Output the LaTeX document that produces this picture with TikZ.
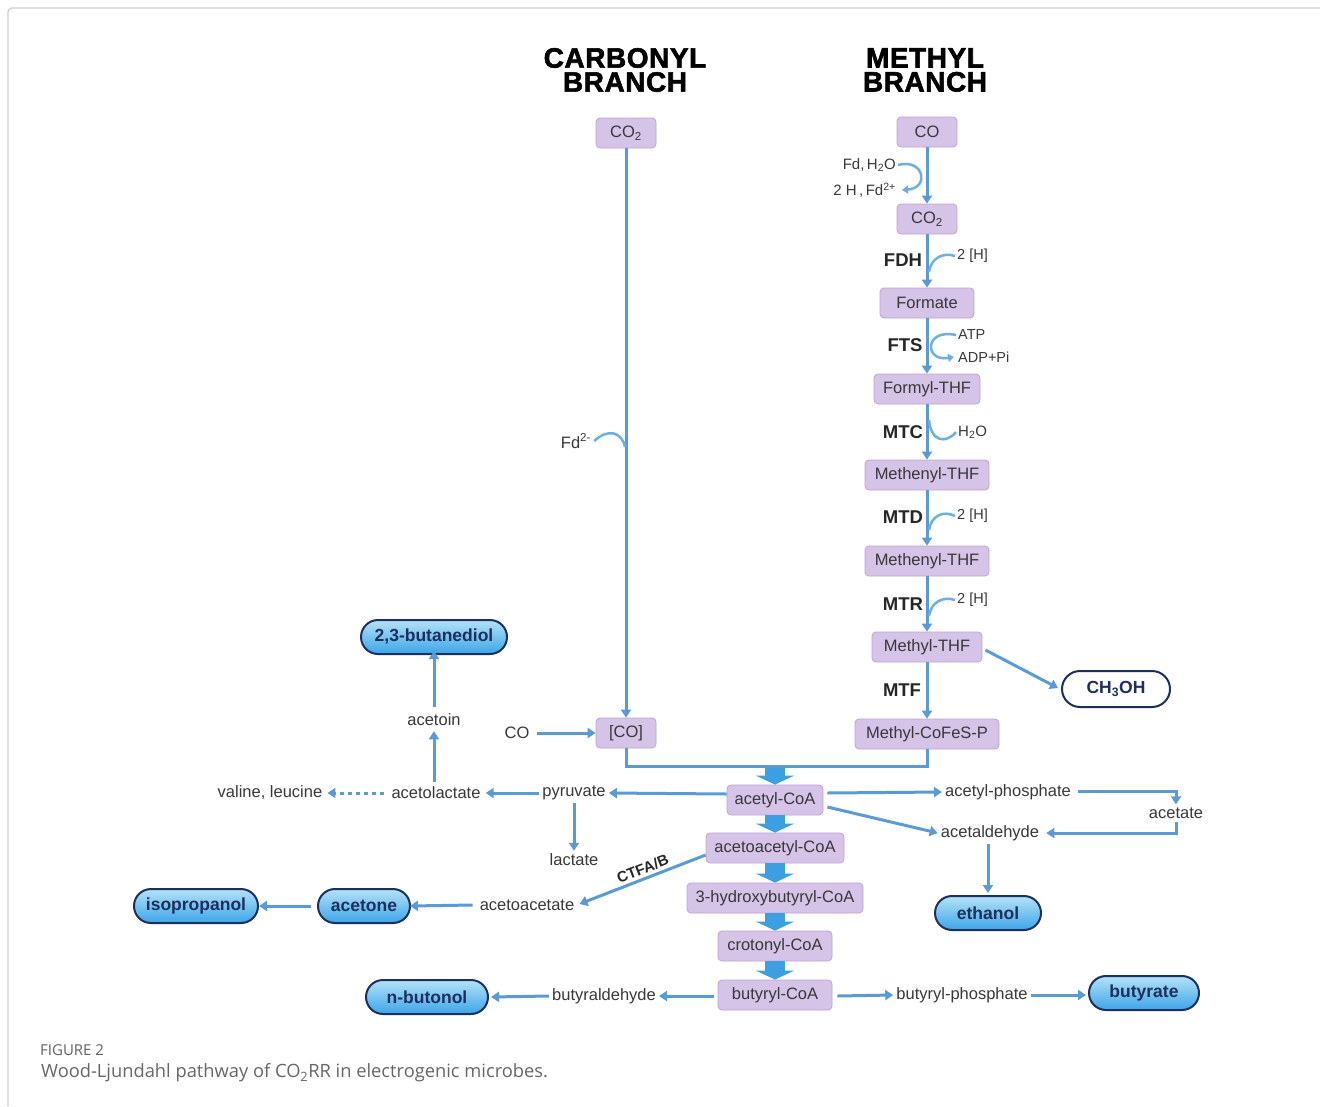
\documentclass[tikz,border=0pt]{standalone}
\usepackage{fontspec}
\setmainfont{Liberation Sans}
\newfontfamily\heavy[FakeBold=2,LetterSpace=2]{Liberation Sans Bold}
\newfontfamily\capfont{Open Sans}
\usetikzlibrary{arrows.meta,calc}
\definecolor{boxfill}{HTML}{D5C3E8}
\definecolor{boxedge}{HTML}{BCA4D6}
\definecolor{ablue}{HTML}{5B9BD5}
\definecolor{cblue}{HTML}{6FAEE2}
\definecolor{bblue}{HTML}{3D9FE2}
\definecolor{navy}{HTML}{1C2F5E}
\definecolor{ptop}{HTML}{B4E2F8}
\definecolor{pbot}{HTML}{3CA5E8}
\definecolor{txt}{HTML}{383838}
\definecolor{frame}{HTML}{CFCFCF}
\tikzset{
  box/.style={draw=boxedge, line width=0.8pt, fill=boxfill, rounded corners=4pt, minimum height=30pt,
    font=\fontsize{16.5}{18}\selectfont, text=txt, inner xsep=5pt},
  prod/.style={draw=navy, line width=2pt, rounded corners=17pt, top color=ptop, bottom color=pbot,
    minimum height=34pt, font=\fontsize{17.5}{19}\selectfont\bfseries, text=navy},
  prodw/.style={draw=navy, line width=2pt, rounded corners=18pt, fill=white,
    minimum height=36pt, font=\fontsize{17.5}{19}\selectfont\bfseries, text=navy},
  lbl/.style={font=\fontsize{16.5}{18}\selectfont, text=txt, inner sep=3pt},
  slbl/.style={font=\fontsize{15}{17}\selectfont, text=txt, inner sep=2pt},
  tlbl/.style={font=\fontsize{14.5}{16}\selectfont, text=txt, inner sep=2pt},
  enz/.style={font=\fontsize{18.5}{20}\selectfont\bfseries, text=black!85, inner sep=2pt},
  ttl/.style={font=\fontsize{28}{24}\selectfont\heavy, text=black, align=center},
  arr/.style={draw=ablue, line width=3pt, -{Triangle[width=10pt,length=8pt]}},
  dotarr/.style={draw=ablue, line width=3pt, dash pattern=on 4pt off 4pt, -{Triangle[width=10pt,length=8pt]}},
  plain/.style={draw=ablue, line width=3pt},
  cof/.style={draw=cblue, line width=2.5pt},
  cofarr/.style={draw=cblue, line width=2.5pt, -{Triangle[width=8pt,length=6pt]}},
  blockarr/.style={draw=bblue, line width=20pt, -{Triangle[width=38pt,length=9pt]}}
}
\begin{document}
\begin{tikzpicture}[x=1pt,y=-1pt]
\useasboundingbox (0,0) rectangle (1320,1106);
\fill[white] (0,0) rectangle (1320,1106);
\draw[frame, line width=1.2pt, rounded corners=4pt] (8,1106) -- (8,8) -- (1320,8);

% titles
\node[ttl] (t1) at (625,70) {CARBONYL\\BRANCH};
\node[ttl] (t2) at (925,70) {METHYL\\BRANCH};

% carbonyl branch
\node[box, minimum width=60pt] (co2a) at (626,133) {CO\textsubscript{2}};
\node[box, minimum width=60pt] (bco) at (626,733) {[CO]};
\node[lbl] (fdm) at (576,441) {Fd\textsuperscript{2-}};
\node[lbl] (cotxt) at (517,733) {CO};
\draw[arr] (co2a.south) -- (bco.north);
\draw[cof] (fdm.east) .. controls (608,428) and (622,432) .. (625,447);
\draw[arr] (cotxt.east) ++(4,0) -- (bco.west);

% methyl branch
\node[box, minimum width=60pt] (co) at (927,132) {CO};
\node[box, minimum width=60pt] (co2b) at (927,219) {CO\textsubscript{2}};
\node[box, minimum width=94pt] (form) at (927,303) {Formate};
\node[box, minimum width=106pt] (fthf) at (927,389) {Formyl-THF};
\node[box, minimum width=124pt] (mthfa) at (927,475) {Methenyl-THF};
\node[box, minimum width=124pt] (mthfb) at (927,561) {Methenyl-THF};
\node[box, minimum width=110pt] (methf) at (927,647) {Methyl-THF};
\node[box, minimum width=144pt] (mcfs) at (927,734) {Methyl-CoFeS-P};
\draw[arr] (co.south) -- (co2b.north);
\draw[arr] (co2b.south) -- (form.north);
\draw[arr] (form.south) -- (fthf.north);
\draw[arr] (fthf.south) -- (mthfa.north);
\draw[arr] (mthfa.south) -- (mthfb.north);
\draw[arr] (mthfb.south) -- (methf.north);
\draw[arr] (methf.south) -- (mcfs.north);

% cofactors
\node[slbl, anchor=east] (fdh2o) at (898,165) {Fd,\,H\textsubscript{2}O};
\node[slbl, anchor=east] (hfd) at (898,190) {2 H\,,\,Fd\textsuperscript{2+}};
\draw[cofarr] (fdh2o.east) .. controls (924,158) and (930,188) .. ($(hfd.east)+(4,0)$);
\node[enz] (fdh) at (903,260) {FDH};
\node[tlbl, anchor=west] (h1) at (955,256) {2 [H]};
\coordinate (c1) at (929,272);
\draw[cof] (c1) .. controls (931,258) and (943,252) .. (h1.west);
\node[enz] (fts) at (905,345) {FTS};
\node[tlbl, anchor=west] (atp) at (956,335) {ATP};
\node[tlbl, anchor=west] (adp) at (956,357) {ADP+Pi};
\draw[cofarr] (atp.west) .. controls (924,328) and (924,362) .. ($(adp.west)+(-2,0)$);
\node[enz] (mtc) at (903,432) {MTC};
\node[slbl, anchor=west] (h2o) at (956,432) {H\textsubscript{2}O};
\coordinate (c2) at (929,420);
\draw[cof] (c2) .. controls (931,442) and (946,444) .. (h2o.west);
\node[enz] (mtd) at (903,517) {MTD};
\node[tlbl, anchor=west] (h2) at (955,516) {2 [H]};
\coordinate (c3) at (929,530);
\draw[cof] (c3) .. controls (931,516) and (943,510) .. (h2.west);
\node[enz] (mtr) at (903,604) {MTR};
\node[tlbl, anchor=west] (h3) at (955,600) {2 [H]};
\coordinate (c4) at (929,616);
\draw[cof] (c4) .. controls (931,602) and (943,596) .. (h3.west);
\node[enz] (mtf) at (902,690) {MTF};

% methanol
\node[prodw, minimum width=108pt] (ch3oh) at (1116,689) {CH\textsubscript{3}OH};
\draw[arr] ($(methf.east)+(3,3)$) -- ($(ch3oh.west)+(-3,-1)$);

% join
\coordinate (jl) at (626,766);
\coordinate (jm) at (775,766);
\coordinate (jr) at (927,766);
\draw[plain] (bco.south) -- (jl) -- (jr) -- (mcfs.south);

% CoA chain
\node[box, minimum width=96pt] (acoa) at (775,800) {acetyl-CoA};
\node[box, minimum width=138pt] (acac) at (775,848) {acetoacetyl-CoA};
\node[box, minimum width=176pt] (hbc) at (775,898) {3-hydroxybutyryl-CoA};
\node[box, minimum width=114pt] (crot) at (775,946) {crotonyl-CoA};
\node[box, minimum width=114pt] (bcoa) at (775,995) {butyryl-CoA};
\draw[blockarr] ($(jm)+(0,2)$) -- (acoa.north);
\draw[blockarr] (acoa.south) -- (acac.north);
\draw[blockarr] (acac.south) -- (hbc.north);
\draw[blockarr] (hbc.south) -- (crot.north);
\draw[blockarr] (crot.south) -- (bcoa.north);

% left branch
\node[lbl] (pyr) at (574,793) {pyruvate};
\node[lbl] (alac) at (436,793) {acetolactate};
\node[lbl] (vl) at (270,793) {valine, leucine};
\node[lbl] (acetoin) at (434,720) {acetoin};
\node[prod, minimum width=146pt] (bdiol) at (434,637) {2,3-butanediol};
\node[lbl] (lac) at (574,860) {lactate};
\draw[arr] ($(acoa.west)+(0,-6)$) -- ($(pyr.east)+(0,0)$);
\draw[arr] (pyr.west) -- ($(alac.east)+(2,0)$);
\draw[dotarr] ($(alac.west)+(-4,0)$) -- ($(vl.east)+(2,0)$);
\draw[arr] ($(alac.north)+(-2,-2)$) -- ($(acetoin.south)+(0,2)$);
\draw[arr] ($(acetoin.north)+(0,-4)$) -- ($(bdiol.south)+(0,-4)$);
\draw[arr] (pyr.south) -- (lac.north);

\node[lbl] (acat) at (527,905) {acetoacetate};
\node[prod, minimum width=92pt] (acetone) at (364,906) {acetone};
\node[prod, minimum width=124pt] (isop) at (196,906) {isopropanol};
\draw[arr] ($(acac.west)+(0,7)$) -- node[sloped, above=2pt, inner sep=1pt, font=\fontsize{15}{16}\selectfont\bfseries, text=black!85, pos=0.47] {CTFA/B} ($(acat.east)+(2,-1)$);
\draw[arr] ($(acat.west)+(-4,0)$) -- ($(acetone.east)+(-1,0)$);
\draw[arr] ($(acetone.west)+(-6,0)$) -- ($(isop.east)+(0,0)$);

\node[lbl] (bald) at (604,996) {butyraldehyde};
\node[prod, minimum width=122pt] (nbut) at (427,997) {n-butonol};
\draw[arr] ($(bcoa.west)+(-4,1)$) -- (bald.east);
\draw[arr] (bald.west) -- ($(nbut.east)+(2,0)$);

% right branch
\node[lbl] (aph) at (1008,792) {acetyl-phosphate};
\node[lbl] (acet) at (1176,813) {acetate};
\node[lbl] (ald) at (990,833) {acetaldehyde};
\node[prod, minimum width=106pt] (eth) at (988,913) {ethanol};
\draw[arr] ($(acoa.east)+(4,-7)$) -- (aph.west);
\draw[arr] ($(acoa.east)+(4,7)$) -- (ald.west);
\coordinate (ar1) at (1176,791);
\coordinate (ar2) at (1176,833);
\draw[arr] ($(aph.east)+(4,-1)$) -- (ar1) -- (acet.north);
\draw[arr] (acet.south) -- (ar2) -- ($(ald.east)+(4,0)$);
\draw[arr] ($(ald.south)+(-2,0)$) -- ($(eth.north)+(0,-2)$);

\node[lbl] (bph) at (962,995) {butyryl-phosphate};
\node[prod, minimum width=110pt] (buty) at (1144,993) {butyrate};
\draw[arr] ($(bcoa.east)+(5,1)$) -- (bph.west);
\draw[arr] (bph.east) -- ($(buty.west)+(-2,2)$);

% caption
\node[anchor=west, font=\capfont\fontsize{15}{17}\selectfont, text=black!62, inner sep=0pt] (fig) at (40,1050) {FIGURE 2};
\node[anchor=west, font=\capfont\fontsize{18.3}{20}\selectfont, text=black!60, inner sep=0pt] (cap) at (41,1073) {Wood-Ljundahl pathway of CO\textsubscript{2}RR in electrogenic microbes.};
\end{tikzpicture}
\end{document}
